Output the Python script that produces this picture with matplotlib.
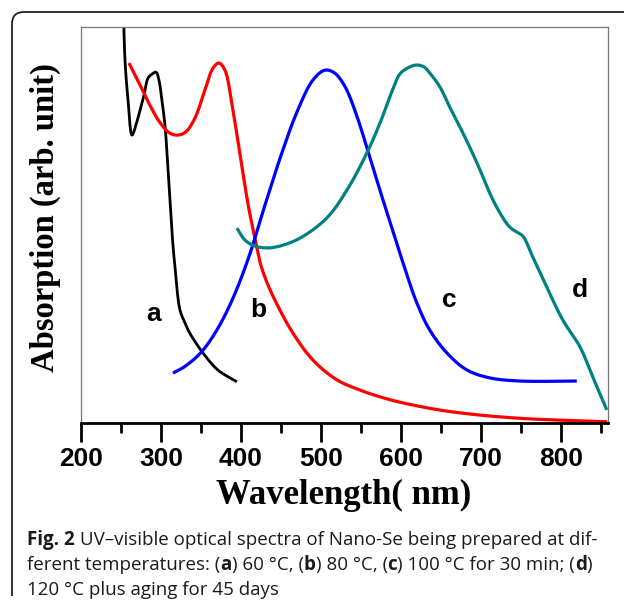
import numpy as np
import matplotlib
matplotlib.use("Agg")
import matplotlib.pyplot as plt
from matplotlib.path import Path
from matplotlib.patches import PathPatch
from matplotlib.ticker import MultipleLocator

# --- Daten (Absorption in willk. Einheiten) ---
wl_a = [252, 255, 258.8, 263.8, 268.8, 273.8, 278.8, 283.8, 288.8, 293.8, 297.5,
        301, 305, 307.5, 310, 312.5, 315, 317.5, 323.8, 330, 336, 352.5, 371, 395]
abs_a = [115, 91.7, 81.6, 72.7, 75.3, 79.0, 82.8, 87.1, 88.1, 88.6, 86.6,
         81.6, 75.3, 68.2, 60.1, 52.0, 44.9, 39.4, 28.5, 25.3, 22.7, 17.7, 13.4, 10.4]

wl_b = [260, 273.8, 286, 299, 311, 321, 331, 342.5, 355, 365, 372.5, 380, 389,
        399, 409, 420, 424, 432.5, 445, 465, 490, 520, 549, 574, 600,
        657.5, 740, 858]
abs_b = [90.9, 85.4, 80.3, 75.8, 73.2, 72.7, 73.5, 77.0, 84.1, 89.6, 90.9, 89.1, 80.1,
         67.7, 55.1, 44.2, 40.5, 35.5, 30.0, 22.7, 15.9, 10.9, 8.3, 6.6, 5.2,
         3.0, 1.3, 0.3]

wl_c = [315, 330, 350, 370, 390, 410, 430, 450, 470, 490, 505, 517,
        530, 545, 560, 575, 590, 605, 620, 636, 657.5, 682.5, 711, 749, 820]
abs_c = [12.6, 14.3, 17.8, 23.5, 31.5, 42.0, 55.0, 67.5, 78.5, 86.6, 89.1, 88.4,
         85.0, 77.5, 67.8, 58.0, 48.5, 39.0, 30.3, 23.5, 17.7, 13.4, 11.4, 10.6, 10.6]

wl_d = [395, 405, 417.5, 432.5, 449, 474, 507.5, 532.5, 557.5, 574,
        590, 599, 611, 620, 629, 636, 649, 661, 674, 686, 699, 711, 724, 736,
        745, 752.5, 765, 782.5, 802.5, 824, 840, 857.5]
abs_d = [49.2, 46.2, 44.7, 44.2, 44.7, 46.7, 51.8, 58.8, 68.2, 75.8,
         84.3, 88.2, 89.9, 90.4, 89.9, 88.4, 84.8, 79.8, 74.7, 69.7, 63.9, 58.1, 53.0, 49.5,
         48.2, 47.2, 41.9, 34.3, 26.0, 19.2, 11.6, 3.3]

kurven = [(wl_a, abs_a, 'black', 2.0), (wl_b, abs_b, '#ff0000', 2.3),
          (wl_c, abs_c, '#0000ff', 2.3), (wl_d, abs_d, '#008080', 2.3)]

beschriftung = ['a', 'b', 'c', 'd']
beschr_x = [291, 422, 661, 824]
beschr_y = [27.5, 28.5, 31, 33.5]

# Bildunterschrift: (Text, fett?) je Zeile
caption = [[("Fig. 2", True), (" UV–visible optical spectra of Nano-Se being prepared at dif-", False)],
           [("ferent temperatures: (", False), ("a", True), (") 60 °C, (", False), ("b", True),
            (") 80 °C, (", False), ("c", True), (") 100 °C for 30 min; (", False), ("d", True), (")", False)],
           [("120 °C plus aging for 45 days", False)]]

W, H = 624, 607
SX, SY = 0.8, 3.96   # Pixel je nm bzw. je Einheit


def glatt(x, y, n=24):
    # zentripetale Catmull-Rom-Kurve durch die Punkte (in Pixelmassstab)
    P = np.column_stack([np.asarray(x, float) * SX, np.asarray(y, float) * SY])
    P = np.vstack([2 * P[0] - P[1], P, 2 * P[-1] - P[-2]])
    out = []
    for i in range(1, len(P) - 2):
        p0, p1, p2, p3 = P[i - 1], P[i], P[i + 1], P[i + 2]
        t0 = 0.0
        t1 = t0 + np.linalg.norm(p1 - p0) ** 0.5
        t2 = t1 + np.linalg.norm(p2 - p1) ** 0.5
        t3 = t2 + np.linalg.norm(p3 - p2) ** 0.5
        t = np.linspace(t1, t2, n, endpoint=False)[:, None]
        a1 = (t1 - t) / (t1 - t0) * p0 + (t - t0) / (t1 - t0) * p1
        a2 = (t2 - t) / (t2 - t1) * p1 + (t - t1) / (t2 - t1) * p2
        a3 = (t3 - t) / (t3 - t2) * p2 + (t - t2) / (t3 - t2) * p3
        b1 = (t2 - t) / (t2 - t0) * a1 + (t - t0) / (t2 - t0) * a2
        b2 = (t3 - t) / (t3 - t1) * a2 + (t - t1) / (t3 - t1) * a3
        out.append((t2 - t) / (t2 - t1) * b1 + (t - t1) / (t2 - t1) * b2)
    out.append(P[-2][None, :])
    out = np.vstack(out)
    return out[:, 0] / SX, out[:, 1] / SY


fig = plt.figure(figsize=(6.24, 6.07), dpi=100)
ax = fig.add_axes([81 / W, 1 - 423 / H, 527 / W, 396 / H])

for wl, ab, farbe, lw in kurven:
    xs, ys = glatt(wl, ab)
    ax.plot(xs, ys, color=farbe, lw=lw, solid_capstyle='butt')

for t, x, y in zip(beschriftung, beschr_x, beschr_y):
    ax.text(x, y, t, fontsize=19, fontweight='bold', family='Liberation Sans',
            ha='center', va='center')

ax.set_xlim(200, 859)
ax.set_ylim(0, 100)
ax.xaxis.set_major_locator(MultipleLocator(100))
ax.xaxis.set_minor_locator(MultipleLocator(50))
ax.set_yticks([])
ax.tick_params(axis='x', which='major', direction='out', length=13.5, width=2.0,
               labelsize=19, pad=4)
ax.tick_params(axis='x', which='minor', direction='out', length=7, width=2.0)
for lab in ax.get_xticklabels():
    lab.set_fontweight('bold')
    lab.set_family('Liberation Sans')

ax.spines['bottom'].set_linewidth(2.0)
for s in ['top', 'right', 'left']:
    ax.spines[s].set_color('#777777')
    ax.spines[s].set_linewidth(0.9)

fig.text(344 / W, 1 - 495 / H, 'Wavelength( nm)', family='Liberation Serif',
         fontweight='bold', fontsize=25, ha='center', va='center')
fig.text(45 / W, 1 - 218 / H, 'Absorption (arb. unit)', family='Liberation Serif',
         fontweight='bold', fontsize=23.5, ha='center', va='center', rotation=90)

# Bildunterschrift, Stueck fuer Stueck gesetzt
renderer = fig.canvas.get_renderer()
for i, zeile in enumerate(caption):
    x = 27.0
    for stueck, fett in zeile:
        txt = fig.text(x / W, 1 - (545 + 25 * i) / H, stueck, family='Open Sans',
                       fontweight='bold' if fett else 'normal', fontsize=13.5,
                       ha='left', va='baseline', color='#1a1a1a')
        x += txt.get_window_extent(renderer).width

# abgerundeter Rahmen
r = 12
verts = [(12 / W, 1 - 596 / H), (12 / W, 1 - (12 + r) / H), (12 / W, 1 - 12 / H),
         ((12 + r) / W, 1 - 12 / H), (1.05, 1 - 12 / H)]
codes = [Path.MOVETO, Path.LINETO, Path.CURVE3, Path.CURVE3, Path.LINETO]
fig.patches.append(PathPatch(Path(verts, codes), transform=fig.transFigure,
                             fill=False, lw=1.3, color='#222222'))

fig.savefig('out.png', dpi=100)
